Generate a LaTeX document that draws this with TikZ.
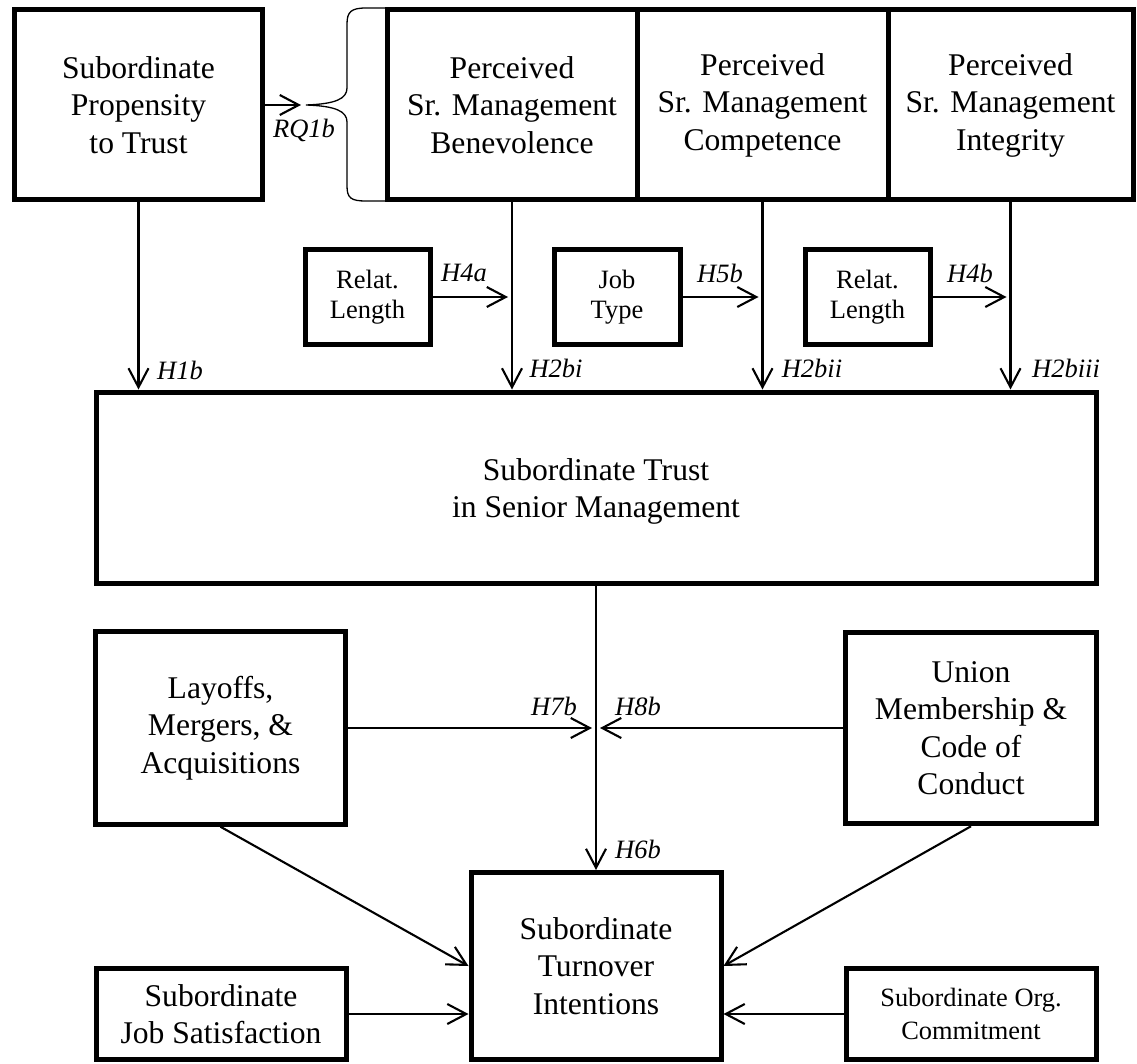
\documentclass[tikz,border=0pt]{standalone}
\usepackage{fontspec}
\setmainfont{Liberation Serif}
\usetikzlibrary{arrows.meta}
\begin{document}
\begin{tikzpicture}[x=1pt,y=-1pt,
  box/.style={draw,line width=5pt,align=center,inner sep=0pt,
    font=\fontsize{31.6}{37.5}\selectfont},
  smallbox/.style={box,font=\fontsize{26.5}{30}\selectfont},
  link/.style={line width=2.1pt,-{Straight Barb[length=19pt,width=20pt]}},
  hyp/.style={font=\fontsize{26.5}{30}\selectfont\itshape,inner sep=0pt},
]
\useasboundingbox (0,0) rectangle (1137,1064);

% top row
\node[box,minimum width=248pt,minimum height=190pt] (A) at (138.5,105)
  {Subordinate\\Propensity\\to Trust};
\node[box,minimum width=250pt,minimum height=190pt] (B1) at (512,105)
  {Perceived\\Sr. Management\\Benevolence};
\node[box,minimum width=251pt,minimum height=190pt] (B2) at (762.5,105)
  {Perceived\\Sr. Management\\Competence};
\node[box,minimum width=245pt,minimum height=190pt] (B3) at (1010.5,105)
  {Perceived\\Sr. Management\\Integrity};

% moderators
\node[smallbox,minimum width=125pt,minimum height=95pt] (R1) at (367.5,297) {Relat.\\Length};
\node[smallbox,minimum width=126pt,minimum height=95pt] (JT) at (617,297) {Job\\Type};
\node[smallbox,minimum width=125pt,minimum height=95pt] (R2) at (867.5,297) {Relat.\\Length};

% central construct
\node[box,minimum width=1000pt,minimum height=191pt] (Trust) at (596,487.5)
  {\rule{0pt}{30pt}Subordinate Trust\\in Senior Management};

\node[box,minimum width=250pt,minimum height=192.5pt] (Lay) at (220.5,728)
  {Layoffs,\\Mergers, \&\\Acquisitions};
\node[box,minimum width=251pt,minimum height=191.5pt] (Union) at (971,728)
  {Union\\Membership \&\\Code of\\Conduct};

% outcome and controls
\node[box,minimum width=250pt,minimum height=187pt] (Turn) at (596,966)
  {Subordinate\\Turnover\\Intentions};
\node[box,minimum width=250pt,minimum height=91pt] (JS) at (221,1014)
  {Subordinate\\Job Satisfaction};
\node[box,minimum width=250pt,minimum height=91pt,
  font=\fontsize{26.4}{32.5}\selectfont] (OC) at (971,1014)
  {Subordinate Org.\\Commitment};

% brace grouping the three perceived-trustworthiness boxes
\draw[line width=1.3pt] (385,8) -- (366,8) .. controls (351,8) and (347,12) .. (347,24)
  -- (347,88) .. controls (347,99) and (335,104) .. (306,105)
  .. controls (335,106) and (347,111) .. (347,122)
  -- (347,186) .. controls (347,198) and (351,201) .. (366,201) -- (385,201);
\coordinate (brace) at (301,105);
\draw[link] (A.east) -- (brace);

% direct paths into trust
\draw[link] (A.south) -- (A.south |- Trust.north);
\draw[link] (B1.south) -- (B1.south |- Trust.north);
\draw[link] (B2.south) -- (B2.south |- Trust.north);
\draw[link] (B3.south) -- (B3.south |- Trust.north);

% moderating arrows
\path (R1.east -| B1.south) coordinate (m4a);
\path (JT.east -| B2.south) coordinate (m5b);
\path (R2.east -| B3.south) coordinate (m4b);
\draw[link] (R1.east) -- ([xshift=-4pt]m4a);
\draw[link] (JT.east) -- ([xshift=-4pt]m5b);
\draw[link] (R2.east) -- ([xshift=-4pt]m4b);

% trust to turnover with moderators
\draw[link] (Trust.south) -- (Turn.north);
\path (Trust.south |- Lay.east) coordinate (hub);
\draw[link] (Lay.east) -- ([xshift=-4pt]hub);
\draw[link] (Union.west) -- ([xshift=4pt]hub);

% controls
\draw[link] (Lay.south) -- (Turn.west);
\draw[link] (Union.south) -- (Turn.east);
\draw[link] (JS.east) -- (JS.east -| Turn.west);
\draw[link] (OC.west) -- (OC.west -| Turn.east);

% hypothesis labels
\node[hyp] (lRQ) at (304,130) {RQ1b};
\node[hyp] (lH1b) at (180,370) {H1b};
\node[hyp] (lH2bi) at (556,368) {H2bi};
\node[hyp] (lH2bii) at (812,368) {H2bii};
\node[hyp] (lH2biii) at (1066,368) {H2biii};
\node[hyp] (lH4a) at (464,273) {H4a};
\node[hyp] (lH5b) at (720,273) {H5b};
\node[hyp] (lH4b) at (970,273) {H4b};
\node[hyp] (lH7b) at (554,706) {H7b};
\node[hyp] (lH8b) at (638,706) {H8b};
\node[hyp] (lH6b) at (638,849) {H6b};
\end{tikzpicture}
\end{document}
